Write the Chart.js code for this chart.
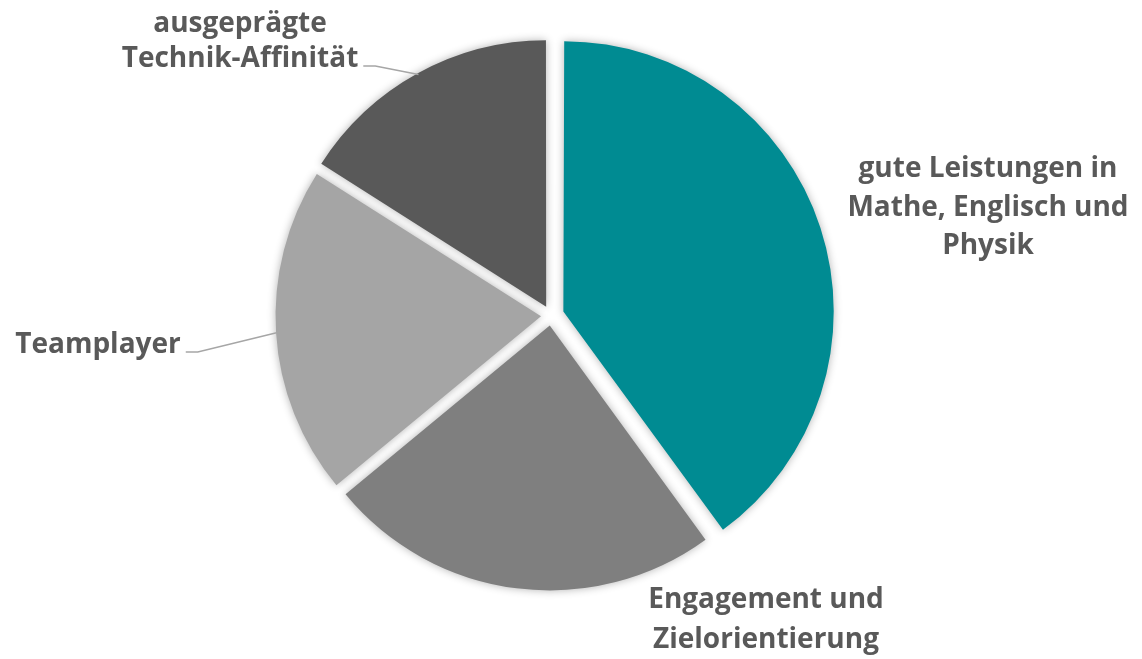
<!DOCTYPE html>
<html>
<head>
<meta charset="utf-8">
<script src="https://cdn.jsdelivr.net/npm/chart.js@4.4.1/dist/chart.umd.min.js"></script>
<style>
  html, body { margin: 0; padding: 0; background: #ffffff; }
  #wrap { width: 1142px; height: 659px; }
</style>
</head>
<body>
<div id="wrap"><canvas id="pieChart"></canvas></div>
<script>
// Data
const categories = [
  ['gute Leistungen in', 'Mathe, Englisch und', 'Physik'],
  ['Engagement und', 'Zielorientierung'],
  ['Teamplayer'],
  ['ausgeprägte', 'Technik-Affinität'],
];
const shares = [40, 24, 20, 16];

const sliceColors = ['#008B92', '#7F7F7F', '#A5A5A5', '#595959'];

// where each label sits (text centre x, first baseline y), and whether it gets a leader line
const labelLayout = [
  { x: 988, y: 177, lineHeight: 38.5, leader: false },
  { x: 766, y: 608, lineHeight: 40, leader: false },
  { x: 98, y: 353, lineHeight: 38, leader: true },
  { x: 240, y: 32, lineHeight: 35, leader: true },
];

// chart.js v4 draws arcs shifted by offset / 4, so these give ~13px and ~10px
const sliceOffsets = [52, 40, 40, 40];

const sliceShadow = {
  id: 'sliceShadow',
  beforeDatasetDraw(chart) {
    const ctx = chart.ctx;
    ctx.save();
    ctx.shadowColor = 'rgba(0,0,0,0.3)';
    ctx.shadowBlur = 8;
    ctx.shadowOffsetX = 0;
    ctx.shadowOffsetY = 0;
  },
  afterDatasetDraw(chart) {
    chart.ctx.restore();
  },
};

const outsideLabels = {
  id: 'outsideLabels',
  afterDatasetsDraw(chart) {
    const ctx = chart.ctx;
    const meta = chart.getDatasetMeta(0);
    ctx.save();
    ctx.font = 'bold 28px "Open Sans", sans-serif';
    ctx.fillStyle = '#595959';
    ctx.textAlign = 'center';
    ctx.textBaseline = 'alphabetic';
    meta.data.forEach((arc, i) => {
      const lay = labelLayout[i];
      const lines = categories[i];
      lines.forEach((line, j) => {
        ctx.fillText(line, lay.x, lay.y + j * lay.lineHeight);
      });
      if (lay.leader) {
        const p = arc.getProps(['x', 'y', 'startAngle', 'endAngle', 'outerRadius'], true);
        const mid = (p.startAngle + p.endAngle) / 2;
        const r = p.outerRadius + (arc.options.offset || 0) / 4;
        const ex = p.x + Math.cos(mid) * r;
        const ey = p.y + Math.sin(mid) * r;
        const last = lines[lines.length - 1];
        const w = ctx.measureText(last).width;
        const sx = lay.x + w / 2 + 5;
        const sy = lay.y + (lines.length - 1) * lay.lineHeight - 1;
        ctx.save();
        ctx.strokeStyle = '#A6A6A6';
        ctx.lineWidth = 1.5;
        ctx.beginPath();
        ctx.moveTo(sx, sy);
        ctx.lineTo(sx + 12, sy);
        ctx.lineTo(ex, ey);
        ctx.stroke();
        ctx.restore();
      }
    });
    ctx.restore();
  },
};

const ctx = document.getElementById('pieChart').getContext('2d');
new Chart(ctx, {
  type: 'pie',
  data: {
    labels: categories.map((c) => c.join(' ')),
    datasets: [
      {
        data: shares,
        backgroundColor: sliceColors,
        borderWidth: 0,
        offset: sliceOffsets,
        radius: 265,
      },
    ],
  },
  options: {
    responsive: true,
    maintainAspectRatio: false,
    animation: false,
    layout: {
      padding: { left: 0, right: 40, top: 0, bottom: 28 },
    },
    plugins: {
      legend: { display: false },
      tooltip: { enabled: false },
      title: { display: false },
    },
  },
  plugins: [sliceShadow, outsideLabels],
});
</script>
</body>
</html>
